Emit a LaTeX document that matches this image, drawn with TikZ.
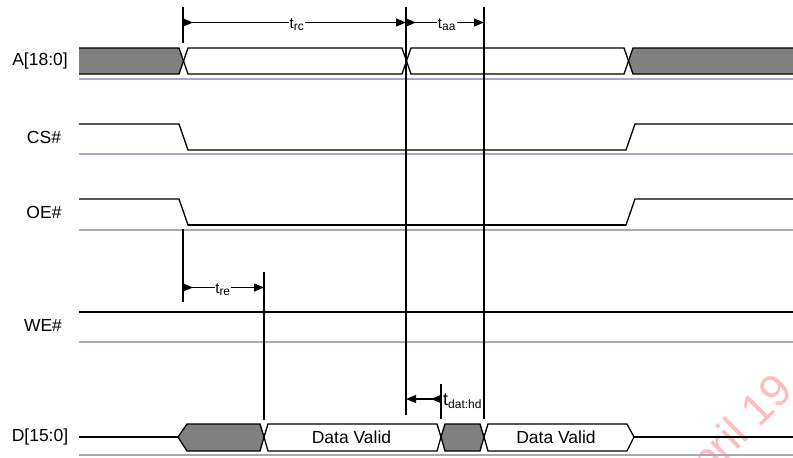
\documentclass[tikz,border=0pt]{standalone}
\usepackage{fontspec}
\setmainfont{Liberation Sans}
\usetikzlibrary{arrows.meta}
\definecolor{busgray}{HTML}{808080}
\definecolor{baseclr}{HTML}{A8A8C6}
\definecolor{wmark}{HTML}{FFBDBD}
\tikzset{
  sig/.style={line width=1.3pt, black, line join=miter},
  baseln/.style={line width=1.6pt, baseclr},
  marker/.style={line width=1.2pt, black},
  dimarrow/.style={line width=1.2pt, black, {Triangle[reversed,length=10pt,width=8pt]}-{Triangle[length=10pt,width=8pt]}},
  siglabel/.style={font=\fontsize{17.5}{20}\selectfont, inner sep=0pt},
  dimlabel/.style={fill=white, inner sep=0.5pt, font=\fontsize{15}{17}\selectfont},
  validtext/.style={font=\fontsize{17.5}{20}\selectfont, inner sep=0pt}
}
\begin{document}
\begin{tikzpicture}[x=1pt,y=-1pt]
\useasboundingbox (0,0) rectangle (793,458);
\clip (0,0) rectangle (793,458);
\fill[white] (0,0) rectangle (793,458);

% watermark
\node[text=wmark, rotate=45, anchor=base east, inner sep=0pt, font=\fontsize{45}{45}\selectfont] (wm) at (795,393) {April 19};

% baselines
\foreach \yb in {79,154,230,342,455} \draw[baseln] (79,\yb) -- (794,\yb);

% signal labels
\node[siglabel] (lA) at (40,61) {A[18:0]};
\node[siglabel] (lCS) at (44,137) {CS\#};
\node[siglabel] (lOE) at (44,212) {OE\#};
\node[siglabel] (lWE) at (43,325) {WE\#};
\node[siglabel] (lD) at (40,437) {D[15:0]};

% A bus
\fill[busgray] (79,48) -- (179,48) -- (183.5,61) -- (179,74) -- (79,74) -- cycle;
\fill[busgray] (795,48) -- (633,48) -- (628.5,61) -- (633,74) -- (795,74) -- cycle;
\draw[sig] (79,48) -- (179,48) -- (188,74) -- (402,74) -- (411,48) -- (624,48) -- (633,74) -- (795,74);
\draw[sig] (79,74) -- (179,74) -- (188,48) -- (402,48) -- (411,74) -- (624,74) -- (633,48) -- (795,48);

% CS#
\draw[sig] (79,124) -- (179,124) -- (188,150) -- (626,150) -- (635,124) -- (795,124);
% OE#
\draw[sig] (79,199) -- (179,199) -- (188,225) -- (626,225) -- (635,199) -- (795,199);
\draw[line width=1.8pt] (188,225) -- (626,225);
% WE#
\draw[sig] (79,312) -- (795,312);

% D bus
\draw[sig] (79,437) -- (178,437);
\filldraw[sig, fill=busgray] (178,437) -- (187,424) -- (260,424) -- (264,437) -- (260,451) -- (187,451) -- cycle;
\draw[sig] (264,437) -- (268,424) -- (437,424) -- (441,437) -- (437,451) -- (268,451) -- cycle;
\filldraw[sig, fill=busgray] (441,437) -- (445,424) -- (480,424) -- (484,437) -- (480,451) -- (445,451) -- cycle;
\draw[sig] (484,437) -- (488,424) -- (627,424) -- (634,437) -- (627,451) -- (488,451) -- cycle;
\draw[sig] (634,437) -- (795,437);
\node[validtext] (dv1) at (351.5,437) {Data Valid};
\node[validtext] (dv2) at (556,437) {Data Valid};

% vertical reference lines
\coordinate (v1a) at (183,7);  \coordinate (v1b) at (183,43);
\coordinate (v1c) at (183,229); \coordinate (v1d) at (183,302);
\coordinate (v2a) at (406,7);  \coordinate (v2b) at (406,415);
\coordinate (v3a) at (484,7);  \coordinate (v3b) at (484,419);
\coordinate (v4a) at (264,272); \coordinate (v4b) at (264,420);
\coordinate (v5a) at (441,384); \coordinate (v5b) at (441,419);
\draw[marker] (v1a) -- (v1b);
\draw[marker] (v1c) -- (v1d);
\draw[marker] (v2a) -- (v2b);
\draw[marker] (v3a) -- (v3b);
\draw[marker] (v4a) -- (v4b);
\draw[marker] (v5a) -- (v5b);

% dimension arrows
\coordinate (rcS) at (183,22.5); \coordinate (rcE) at (406,22.5);
\coordinate (aaS) at (406,22.5); \coordinate (aaE) at (484,22.5);
\coordinate (reS) at (183,287.5); \coordinate (reE) at (264,287.5);
\coordinate (hdS) at (441,399); \coordinate (hdE) at (406,399);
\draw[dimarrow] (rcS) -- (rcE);
\draw[dimarrow] (aaS) -- (aaE);
\draw[dimarrow] (reS) -- (reE);
\draw[dimarrow] (hdS) -- (hdE);

\node[dimlabel] (trc) at (297,25) {t\textsubscript{\fontsize{12}{13}\selectfont rc}};
\node[dimlabel] (taa) at (447,25) {t\textsubscript{\fontsize{12}{13}\selectfont aa}};
\node[dimlabel] (tre) at (223,290) {t\textsubscript{\fontsize{12}{13}\selectfont re}};
\node[inner sep=0pt, anchor=west, font=\fontsize{18}{20}\selectfont] (thd) at (443,401) {t\textsubscript{\fontsize{12}{13}\selectfont dat:hd}};
\end{tikzpicture}
\end{document}
